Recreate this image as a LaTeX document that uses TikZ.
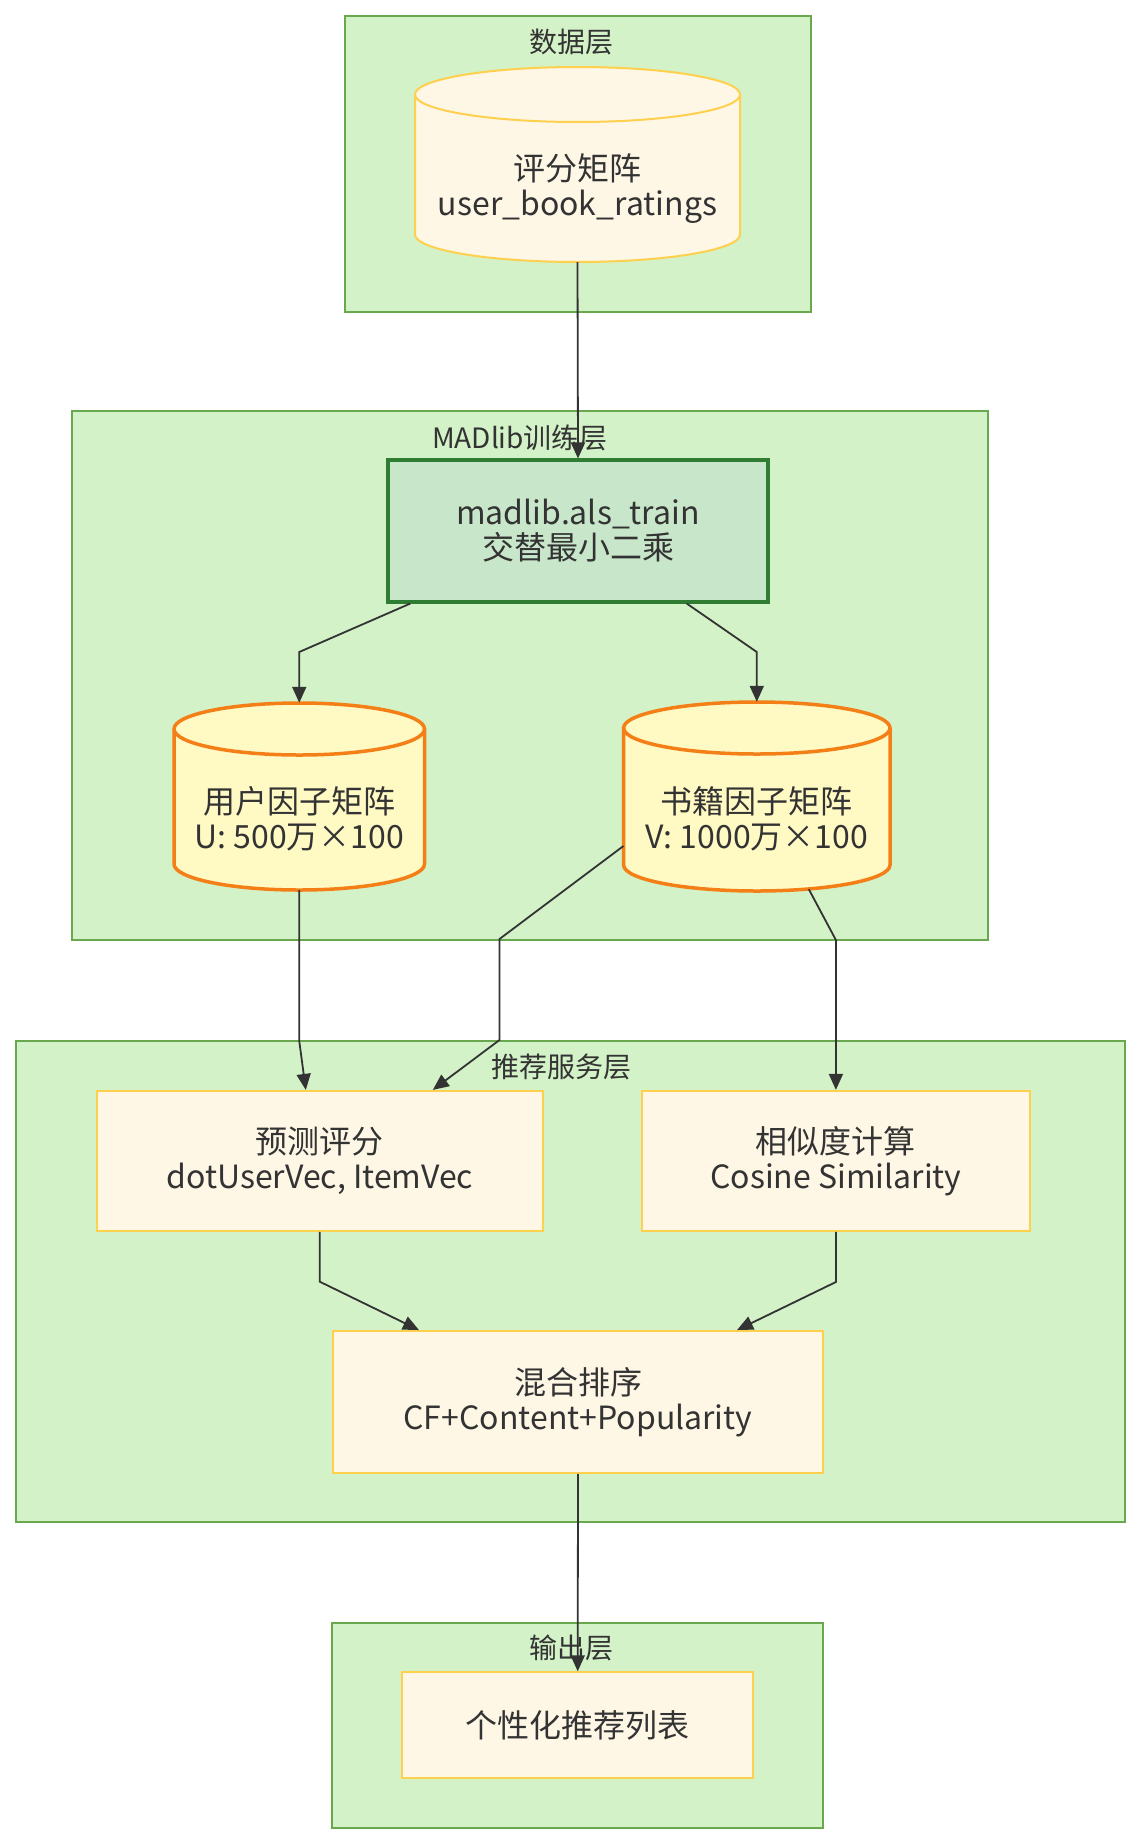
\documentclass[tikz,border=0pt]{standalone}
\usepackage{fontspec}
\setmainfont{Noto Sans CJK SC}
\usepackage{xcolor}
\usepackage{tikz}
\usetikzlibrary{positioning,arrows.meta}

\definecolor{inkgray}{HTML}{333333}
\definecolor{layerfill}{HTML}{D3F2C7}
\definecolor{layerline}{HTML}{6AA84F}
\definecolor{creamfill}{HTML}{FFF7E6}
\definecolor{creamline}{HTML}{FFD04D}
\definecolor{alsfill}{HTML}{C8E6C9}
\definecolor{alsline}{HTML}{2E7D32}
\definecolor{factfill}{HTML}{FFF9C4}
\definecolor{factline}{HTML}{F57F17}

% cylinder: name, cx, cy, half width, half height, cap radius, look, text
\newcommand{\dbcyl}[8]{%
  \path[#7] (#2-#4,#3-#5+#6) -- (#2-#4,#3+#5-#6)
    arc[start angle=180,end angle=360,x radius=#4pt,y radius=#6pt]
    -- (#2+#4,#3-#5+#6)
    arc[start angle=0,end angle=180,x radius=#4pt,y radius=#6pt] -- cycle;
  \draw[#7,fill=none] (#2-#4,#3-#5+#6)
    arc[start angle=180,end angle=360,x radius=#4pt,y radius=#6pt];
  \node[minimum width=2*#4pt,minimum height=2*#5pt,inner sep=0pt] (#1) at (#2,#3) {};
  \node[nodetext] (#1txt) at (#2,#3+#6-3.5) {#8};
}

\begin{document}
\begin{tikzpicture}[x=1pt,y=-1pt,
    layer/.style={draw=layerline, fill=layerfill, line width=2pt},
    ttl/.style={font=\fontsize{28pt}{30pt}\selectfont, text=inkgray, inner sep=0pt},
    nodetext/.style={font=\fontsize{32pt}{35pt}\selectfont, text=inkgray, align=center, inner sep=0pt},
    box/.style={nodetext, draw=creamline, fill=creamfill, line width=2pt, minimum height=140pt},
    alsbox/.style={nodetext, draw=alsline, fill=alsfill, line width=3.5pt},
    ratingsdb/.style={draw=creamline, fill=creamfill, line width=2pt},
    factordb/.style={draw=factline, fill=factfill, line width=3.5pt},
    flow/.style={draw=inkgray, line width=1.8pt, -{Triangle[length=16pt,width=14pt]}}]
  \fill[white] (0,0) rectangle (1142,1844);
  \useasboundingbox (0,0) rectangle (1142,1844);

  % Layers
  \draw[layer] (344.7,15.7) rectangle (811,311.7);
  \draw[layer] (72,411.4) rectangle (988,940);
  \draw[layer] (16,1040.7) rectangle (1125,1521.7);
  \draw[layer] (332,1622.7) rectangle (823.3,1827.7);
  \node[ttl] (dataT) at (571.7,42) {数据层};
  \node[ttl] (madT) at (520,437.5) {MADlib训练层};
  \node[ttl] (servT) at (561.5,1066.7) {推荐服务层};
  \node[ttl] (outT) at (571.7,1648) {输出层};

  % Nodes
  \dbcyl{ratings}{577.5}{164.5}{162.5}{97.5}{27.5}{ratingsdb}{评分矩阵\\user\_book\_ratings}
  \node[alsbox, minimum width=380pt, minimum height=141.6pt] (als) at (578,531) {madlib.als\_train\\交替最小二乘};
  \dbcyl{ucyl}{299.25}{796.5}{125.25}{93.5}{26}{factordb}{用户因子矩阵\\U: 500万×100}
  \dbcyl{book}{756.8}{796.5}{133.2}{94.5}{26}{factordb}{书籍因子矩阵\\V: 1000万×100}
  \node[box, minimum width=445.6pt] (pred) at (319.8,1160.9) {预测评分\\dotUserVec, ItemVec};
  \node[box, minimum width=388.3pt] (sim) at (835.9,1160.9) {相似度计算\\Cosine Similarity};
  \node[box, minimum width=490pt, minimum height=141.7pt] (blend) at (578,1401.9) {混合排序\\CF+Content+Popularity};
  \node[box, minimum width=351.3pt, minimum height=105.4pt] (list) at (577.7,1725) {个性化推荐列表};

  % Edges
  \draw[flow] (ratings.south) -- (als.north);
  \draw[flow] ([xshift=24pt]als.south west) -- (299.25,652) -- (ucyl.north);
  \draw[flow] ([xshift=-83pt]als.south east) -- (756.8,652) -- (book.north);
  \draw[flow] (ucyl.south) -- (299.25,1041) -- ([xshift=-14pt]pred.north);
  \draw[flow] ([yshift=-49.5pt]book.west) -- (499.5,939) -- (499.5,1040) -- ([xshift=113pt]pred.north);
  \draw[flow] ([xshift=52pt,yshift=2pt]book.south) -- (835.9,940) -- (sim.north);
  \draw[flow] (pred.south) -- (319.8,1281.7) -- ([xshift=-159pt]blend.north);
  \draw[flow] (sim.south) -- (835.9,1282) -- ([xshift=159pt]blend.north);
  \draw[flow] (blend.south) -- (list.north);
\end{tikzpicture}
\end{document}
